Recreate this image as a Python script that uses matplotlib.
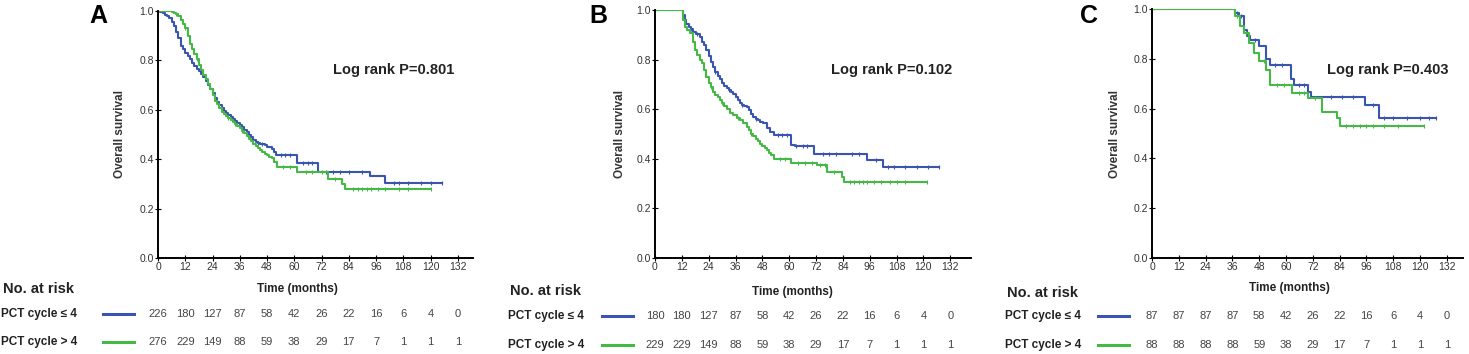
import numpy as np
import matplotlib
matplotlib.use("Agg")
import matplotlib.pyplot as plt
import matplotlib.transforms as mtransforms

plt.rcParams['font.family'] = ['Liberation Sans', 'DejaVu Sans']

BLUE = '#3a55b0'
GREEN = '#46b846'

# panel A: knots of the KM steps (time in months, survival)
a_blue_t = [0, 1, 2, 3, 4, 5, 6, 7, 8, 9, 10, 11, 12, 13, 14, 15, 16, 17, 18, 19, 20, 21, 22, 23, 24, 25,
            26, 27, 28, 29, 30, 31, 32, 33, 34, 35, 36, 37, 38, 39, 40, 41, 42, 43, 44, 45, 47, 48, 50, 51,
            52, 61, 70.5, 93.4, 100, 125]
a_blue_s = [1.0, 0.995, 0.99, 0.985, 0.978, 0.97, 0.955, 0.94, 0.915, 0.89, 0.86, 0.845, 0.83, 0.818,
            0.805, 0.79, 0.778, 0.767, 0.757, 0.745, 0.734, 0.718, 0.702, 0.686, 0.668, 0.648, 0.633, 0.62,
            0.606, 0.596, 0.587, 0.578, 0.57, 0.562, 0.553, 0.545, 0.537, 0.53, 0.52, 0.51, 0.5, 0.488,
            0.478, 0.47, 0.465, 0.462, 0.457, 0.45, 0.44, 0.43, 0.417, 0.385, 0.35, 0.33, 0.305, 0.305]
a_blue_cens = [30, 33, 36, 39, 44, 46, 54, 56, 58, 64, 66, 68, 74, 77, 80, 84, 90, 104, 106, 110, 116, 120, 125]
a_green_t = [0, 5.3, 6, 7, 8, 9, 10, 11, 12, 13, 14, 15, 16, 17, 18, 19, 20, 21, 22, 23, 24, 25, 26, 27,
             28, 29, 30, 31, 32, 33, 34, 35, 36, 37, 38, 39, 40, 41, 42, 43, 44, 45, 46, 47, 48, 49, 50, 51,
             52.3, 61, 75, 81, 82.5, 120]
a_green_s = [1.0, 1.0, 0.997, 0.993, 0.988, 0.98, 0.965, 0.948, 0.93, 0.9, 0.865, 0.845, 0.826, 0.805,
             0.783, 0.76, 0.742, 0.723, 0.704, 0.683, 0.66, 0.636, 0.622, 0.607, 0.593, 0.584, 0.575, 0.567,
             0.56, 0.552, 0.543, 0.535, 0.525, 0.516, 0.505, 0.493, 0.482, 0.472, 0.463, 0.455, 0.446, 0.437,
             0.43, 0.423, 0.416, 0.41, 0.405, 0.39, 0.37, 0.35, 0.32, 0.30, 0.28, 0.28]
a_green_cens = [8, 12, 17, 31, 34, 37, 55, 58, 65, 68, 72, 78, 86, 88, 90, 92, 94, 97, 100, 106, 110, 120]

# panel B
b_blue_t = [0, 12, 12.5, 13.4, 14, 15, 16, 17.2, 18.5, 20, 21, 22, 23, 24, 25, 26, 27, 28, 29, 30, 31, 32,
            33, 34, 35, 36, 37, 38, 39, 40, 41, 42, 43, 44, 45, 46, 47, 48.5, 50, 51.5, 53, 61, 62.5, 71,
            95, 102, 127]
b_blue_s = [1.0, 1.0, 0.98, 0.96, 0.945, 0.933, 0.922, 0.913, 0.905, 0.89, 0.872, 0.858, 0.84, 0.815, 0.79,
            0.77, 0.752, 0.735, 0.72, 0.705, 0.695, 0.685, 0.677, 0.668, 0.66, 0.648, 0.637, 0.625, 0.618,
            0.613, 0.61, 0.595, 0.582, 0.57, 0.562, 0.556, 0.55, 0.543, 0.525, 0.51, 0.496, 0.456, 0.45,
            0.42, 0.395, 0.365, 0.365]
b_blue_cens = [16, 19, 27, 33, 39, 45, 55, 57, 59, 63, 66, 68, 75, 78, 81, 88, 91, 99, 104, 107, 112, 117,
               122, 127]
b_green_t = [0, 12, 12.5, 13.4, 14.5, 15.7, 16.8, 18, 19, 20, 21, 22, 23, 24, 25, 26, 27, 28, 29, 30, 31,
             32, 33.6, 35, 36.5, 38, 39.5, 41, 42, 43, 44, 45, 46, 47, 48, 49, 50, 51, 52, 53, 61, 72.4, 77,
             83.6, 84.3, 121.6]
b_green_s = [1.0, 1.0, 0.96, 0.933, 0.918, 0.906, 0.87, 0.84, 0.82, 0.8, 0.785, 0.76, 0.73, 0.705, 0.688,
             0.67, 0.658, 0.648, 0.637, 0.625, 0.612, 0.6, 0.583, 0.575, 0.565, 0.556, 0.545, 0.53, 0.515,
             0.502, 0.49, 0.48, 0.47, 0.46, 0.452, 0.443, 0.435, 0.425, 0.415, 0.40, 0.385, 0.375, 0.348,
             0.328, 0.308, 0.308]
b_green_cens = [25, 30, 37, 43, 56, 58, 64, 67, 70, 74, 76, 80, 87, 89, 91, 93, 95, 98, 101, 105, 108, 112,
                121.6]

# panel C
c_blue_t = [0, 36, 37, 39, 41, 42.5, 44, 48, 51, 53, 62, 63.4, 70, 71, 95.5, 101.5, 127]
c_blue_s = [1.0, 1.0, 0.984, 0.97, 0.917, 0.89, 0.877, 0.85, 0.80, 0.776, 0.72, 0.695, 0.668, 0.648, 0.615,
            0.562, 0.562]
c_blue_cens = [38, 40, 43, 46, 55, 58, 66, 68, 80, 85, 90, 99, 104, 108, 114, 120, 124, 127]
c_green_t = [0, 36, 37.3, 39.6, 41, 43.3, 45.5, 48, 51, 53, 62.7, 70, 76, 83, 84, 121.6]
c_green_s = [1.0, 1.0, 0.97, 0.93, 0.903, 0.863, 0.823, 0.79, 0.756, 0.695, 0.663, 0.643, 0.587, 0.562,
             0.53, 0.53]
c_green_cens = [38, 42, 50, 56, 59, 66, 68, 73, 87, 90, 93, 96, 99, 104, 110, 121.6]

risk_times = [0, 12, 24, 36, 48, 60, 72, 84, 96, 108, 120, 132]
a_risk_blue = [226, 180, 127, 87, 58, 42, 26, 22, 16, 6, 4, 0]
a_risk_green = [276, 229, 149, 88, 59, 38, 29, 17, 7, 1, 1, 1]
b_risk_blue = [180, 180, 127, 87, 58, 42, 26, 22, 16, 6, 4, 0]
b_risk_green = [229, 229, 149, 88, 59, 38, 29, 17, 7, 1, 1, 1]
c_risk_blue = [87, 87, 87, 87, 58, 42, 26, 22, 16, 6, 4, 0]
c_risk_green = [88, 88, 88, 88, 59, 38, 29, 17, 7, 1, 1, 1]

letters = ['A', 'B', 'C']
pvals = ['Log rank P=0.801', 'Log rank P=0.102', 'Log rank P=0.403']
group_labels = ['PCT cycle \u2264 4', 'PCT cycle > 4']

W, H = 1469, 354
fig = plt.figure(figsize=(W / 100, H / 100), dpi=100)


def fx(px):
    return px / W


def fy(py):
    return 1 - py / H


def km_line(ax, t, s, cens, color):
    ax.step(t, s, where='post', color=color, lw=1.5)
    t = np.asarray(t)
    s = np.asarray(s)
    idx = np.searchsorted(t, cens, side='right') - 1
    ax.plot(cens, s[idx], ls='none', marker='|', ms=3.5, mew=0.8, color=color)


panels = [
    dict(left=158, right=473, top=11, xmax=138.7, lx=98, px=394, ylx=120, labx=1, linex=103,
         rows=(289, 314, 342), timey=289,
         curves=[(a_blue_t, a_blue_s, a_blue_cens, BLUE), (a_green_t, a_green_s, a_green_cens, GREEN)],
         risk=(a_risk_blue, a_risk_green)),
    dict(left=655, right=971, top=10, xmax=141.3, lx=598, px=892, ylx=620, labx=508, linex=602,
         rows=(291, 316, 345), timey=292,
         curves=[(b_blue_t, b_blue_s, b_blue_cens, BLUE), (b_green_t, b_green_s, b_green_cens, GREEN)],
         risk=(b_risk_blue, b_risk_green)),
    dict(left=1152, right=1463, top=9, xmax=139.2, lx=1089, px=1388, ylx=1115, labx=1005, linex=1098,
         rows=(293, 316, 345), timey=288,
         curves=[(c_blue_t, c_blue_s, c_blue_cens, BLUE), (c_green_t, c_green_s, c_green_cens, GREEN)],
         risk=(c_risk_blue, c_risk_green)),
]

for i, p in enumerate(panels):
    bottom = 258
    ax = fig.add_axes([fx(p['left']), fy(bottom), fx(p['right'] - p['left']), (bottom - p['top']) / H])
    for t, s, cens, col in p['curves']:
        km_line(ax, t, s, cens, col)
    ax.set_xlim(0, p['xmax'])
    ax.set_ylim(0, 1.0)
    ax.set_xticks(risk_times)
    ax.set_yticks([0, 0.2, 0.4, 0.6, 0.8, 1.0])
    ax.set_yticklabels(['0.0', '0.2', '0.4', '0.6', '0.8', '1.0'])
    for sp in ['top', 'right']:
        ax.spines[sp].set_visible(False)
    for sp in ['left', 'bottom']:
        ax.spines[sp].set_linewidth(1.4)
    ax.tick_params(direction='inout', length=4, width=0.8, labelsize=7.5,
                   labelcolor='#333333', pad=1)
    ax.set_facecolor('none')

    fig.text(fx(p['ylx']), fy((bottom + p['top']) / 2), 'Overall survival', rotation=90,
             ha='center', va='center', fontsize=8.5, fontweight='bold', color='#333333')
    fig.text(fx(p['lx']), fy(16), letters[i], ha='center', va='center', fontsize=18,
             fontweight='bold', color='black')
    fig.text(fx(p['px']), fy(70), pvals[i], ha='center', va='center', fontsize=10.5,
             fontweight='bold', color='#222222')

    # number at risk table under each panel
    tr = mtransforms.blended_transform_factory(ax.transData, fig.transFigure)
    ax.text(61.5, fy(p['timey']), 'Time (months)', transform=tr, ha='center', va='center',
            fontsize=8.5, fontweight='bold', color='#222222', clip_on=False)
    fig.text(fx(p['labx'] + 2), fy(p['rows'][0]), 'No. at risk', ha='left', va='center',
             fontsize=10.5, fontweight='bold', color='#222222')
    for j, (counts, col) in enumerate(zip(p['risk'], [BLUE, GREEN])):
        ry = fy(p['rows'][j + 1])
        fig.text(fx(p['labx']), ry, group_labels[j], ha='left', va='center',
                 fontsize=8.5, fontweight='bold', color='#222222')
        fig.add_artist(plt.Line2D([fx(p['linex']), fx(p['linex'] + 31)], [ry, ry],
                                  color=col, lw=2.2))
        for tt, n in zip(risk_times, counts):
            ax.text(tt, ry, str(n), transform=tr, ha='center', va='center',
                    fontsize=8, color='#444444', clip_on=False)

fig.savefig('out.png', dpi=100)
